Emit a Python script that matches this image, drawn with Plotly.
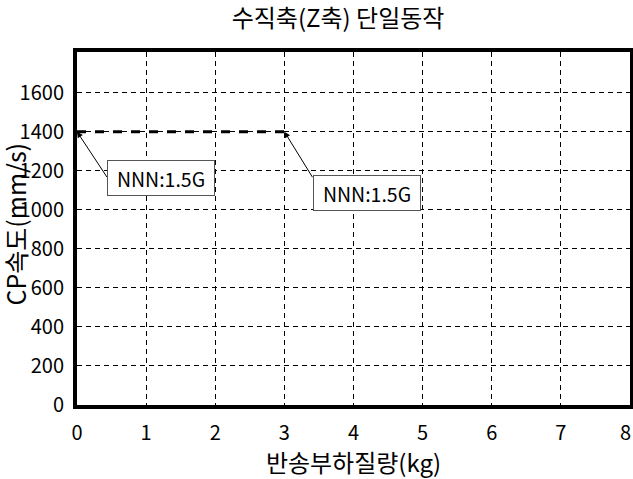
import plotly.graph_objects as go

x_vals = [0, 3]
y_vals = [1400, 1400]
x_ticks = [0, 1, 2, 3, 4, 5, 6, 7, 8]
x_tick_labels = ["0", "1", "2", "3", "4", "5", "6", "7", "8\u00a0\u00a0"]
y_ticks = [0, 200, 400, 600, 800, 1000, 1200, 1400, 1600]
label_text = "NNN:1.5G"
title = "수직축(Z축) 단일동작"
x_title = "반송부하질량(kg)"
y_title = "CP속도(mm/s)"

FONT = "Noto Sans CJK KR"

fig = go.Figure()
fig.add_trace(go.Scatter(x=x_vals, y=y_vals, mode="lines",
                         line=dict(color="black", width=3, dash="dash"),
                         showlegend=False))

axis_common = dict(showline=True, linecolor="black", linewidth=4, mirror=True,
                   showgrid=True, gridcolor="black", gridwidth=1, griddash="5px,4px",
                   zeroline=False, ticks="", automargin=False, ticklabeloverflow="allow",
                   tickfont=dict(family=FONT, size=20, color="black"))

fig.update_xaxes(range=[0, 8], tickvals=x_ticks, ticktext=x_tick_labels, ticklabelstandoff=7,
                 **axis_common,
                 title=dict(text=x_title, font=dict(family=FONT, size=24, color="black"), standoff=5))
fig.update_yaxes(range=[0, 1808], tickvals=y_ticks, ticklabelstandoff=5, **axis_common)

# y axis title
fig.add_annotation(x=-0.1125, y=0.511, xref="paper", yref="paper", text=y_title,
                   textangle=-90, showarrow=False, xanchor="center", yanchor="middle",
                   font=dict(family=FONT, size=25, color="black"))

# arrows
for px, ax in [(0, 31), (3, 29)]:
    fig.add_annotation(x=px, y=1400, xref="x", yref="y", text="", showarrow=True,
                       ax=ax, ay=47, arrowhead=2, arrowsize=1.2, arrowwidth=1, arrowcolor="black")

# boxes
for bx, by in [(1.22, 1165), (4.19, 1085)]:
    fig.add_annotation(x=bx, y=by, xref="x", yref="y", text=label_text, showarrow=False,
                       font=dict(family=FONT, size=19.5, color="black"),
                       width=98, height=26,
                       bgcolor="white", bordercolor="#555555", borderwidth=1, borderpad=4)

fig.update_layout(
    width=633, height=479,
    margin=dict(l=77, r=3, t=52, b=74),
    paper_bgcolor="white", plot_bgcolor="white",
    title=dict(text=title, x=0.534, xanchor="center", y=0.962, yanchor="middle",
               font=dict(family=FONT, size=24, color="black")),
)

fig.write_html("out.html", config={"displayModeBar": False},
               post_script="document.body.style.margin='0';")
